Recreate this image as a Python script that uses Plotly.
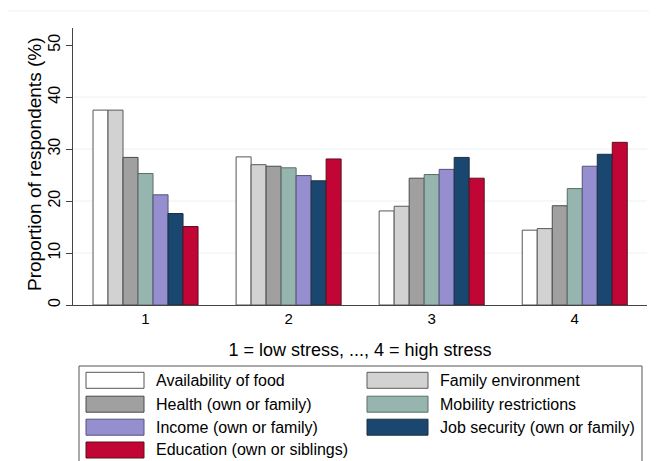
import plotly.graph_objects as go

# ---- data ----
categories = ["1", "2", "3", "4"]
series_names = [
    "Availability of food",
    "Family environment",
    "Health (own or family)",
    "Mobility restrictions",
    "Income (own or family)",
    "Job security (own or family)",
    "Education (own or siblings)",
]
availability_of_food = [37.5, 28.5, 18.1, 14.4]
family_environment = [37.5, 27.0, 19.0, 14.7]
health = [28.4, 26.7, 24.4, 19.1]
mobility_restrictions = [25.3, 26.4, 25.1, 22.4]
income = [21.2, 24.9, 26.1, 26.7]
job_security = [17.6, 23.9, 28.4, 29.0]
education = [15.1, 28.1, 24.4, 31.3]
series_values = [availability_of_food, family_environment, health,
                 mobility_restrictions, income, job_security, education]
y_ticks = [0, 10, 20, 30, 40, 50]
grid_vals = [10, 20, 30, 40]
y_title = "Proportion of respondents (%)"
x_title = "1 = low stress, ..., 4 = high stress"

fill_colors = ["#ffffff", "#d2d2d2", "#a0a0a0", "#96b5ae", "#958fd0", "#1a476f", "#c10534"]
line_colors = ["#555555", "#5a5a5a", "#4a4a4a", "#5a6e68", "#55527a", "#1f2f40", "#5a1020"]

FONT = "Liberation Sans, Arial, sans-serif"
OFF = 8  # page body margin in the browser
W, H = 657 - OFF, 461 - OFF
L = 73 - OFF
T = 28 - OFF
R = W - (647 - OFF)
B = H - (305 - OFF)
PW, PH = W - L - R, H - T - B


def px_x(px):
    # px given in reference-window pixels
    return (px - OFF - L) / PW


def px_y(py):
    return (H - B - (py - OFF)) / PH


fig = go.Figure()
for name, vals, fc, lc in zip(series_names, series_values, fill_colors, line_colors):
    fig.add_trace(go.Bar(
        x=[int(c) for c in categories], y=vals, name=name,
        marker=dict(color=fc, line=dict(color=lc, width=1)),
        showlegend=False,
    ))

shapes = []
for g in grid_vals:
    shapes.append(dict(type="line", xref="paper", yref="y", x0=0, x1=1, y0=g, y1=g,
                       line=dict(color="#eaf2f3", width=1), layer="below"))
shapes.append(dict(type="line", xref="paper", yref="paper", x0=px_x(8), x1=px_x(655),
                   y0=px_y(11), y1=px_y(11), line=dict(color="#eef2f2", width=1)))

# custom legend
shapes.append(dict(type="rect", xref="paper", yref="paper",
                   x0=px_x(79), x1=px_x(642), y0=px_y(366), y1=px_y(475),
                   line=dict(color="#555555", width=1), fillcolor="rgba(0,0,0,0)"))
annotations = []
row_centers = [380.3, 404.2, 427.2, 450.0]
col_sw = [(86, 144), (367, 428)]
col_tx = [154, 438]
for i, (name, fc, lc) in enumerate(zip(series_names, fill_colors, line_colors)):
    r, c = divmod(i, 2)
    yc = row_centers[r]
    shapes.append(dict(type="rect", xref="paper", yref="paper",
                       x0=px_x(col_sw[c][0]), x1=px_x(col_sw[c][1]),
                       y0=px_y(yc + 8), y1=px_y(yc - 8),
                       line=dict(color=lc, width=1), fillcolor=fc))
    annotations.append(dict(text=name, xref="paper", yref="paper",
                            x=px_x(col_tx[c]), y=px_y(yc), xanchor="left", yanchor="middle",
                            showarrow=False, font=dict(family=FONT, size=16, color="#000000")))

# y-axis title
annotations.append(dict(text=y_title, xref="paper", yref="paper",
                        x=px_x(34), y=px_y(165), xanchor="center", yanchor="middle",
                        textangle=-90, showarrow=False,
                        font=dict(family=FONT, size=19, color="#000000")))

fig.update_layout(
    width=W, height=H,
    margin=dict(l=L, r=R, t=T, b=B),
    paper_bgcolor="white", plot_bgcolor="white",
    barmode="group", bargap=0.266, bargroupgap=0,
    font=dict(family=FONT, color="#000000"),
    shapes=shapes, annotations=annotations,
    showlegend=False,
    xaxis=dict(
        range=[0.493, 4.505], tickvals=[int(c) for c in categories], ticktext=categories,
        showgrid=False, zeroline=False, showline=True, linecolor="#444444", linewidth=1,
        ticks="", tickfont=dict(size=15, family=FONT, color="#000000"),
        title=dict(text=x_title, standoff=17,
                   font=dict(size=18, family=FONT, color="#000000")),
    ),
    yaxis=dict(
        range=[0, 53.3], tickvals=y_ticks, showgrid=False, zeroline=False,
        showline=True, linecolor="#444444", linewidth=1,
        ticks="outside", ticklen=6, tickcolor="#444444", tickangle=-90,
        ticklabelstandoff=0,
        tickfont=dict(size=16, family=FONT, color="#000000"),
    ),
)

fig.write_html("out.html")
